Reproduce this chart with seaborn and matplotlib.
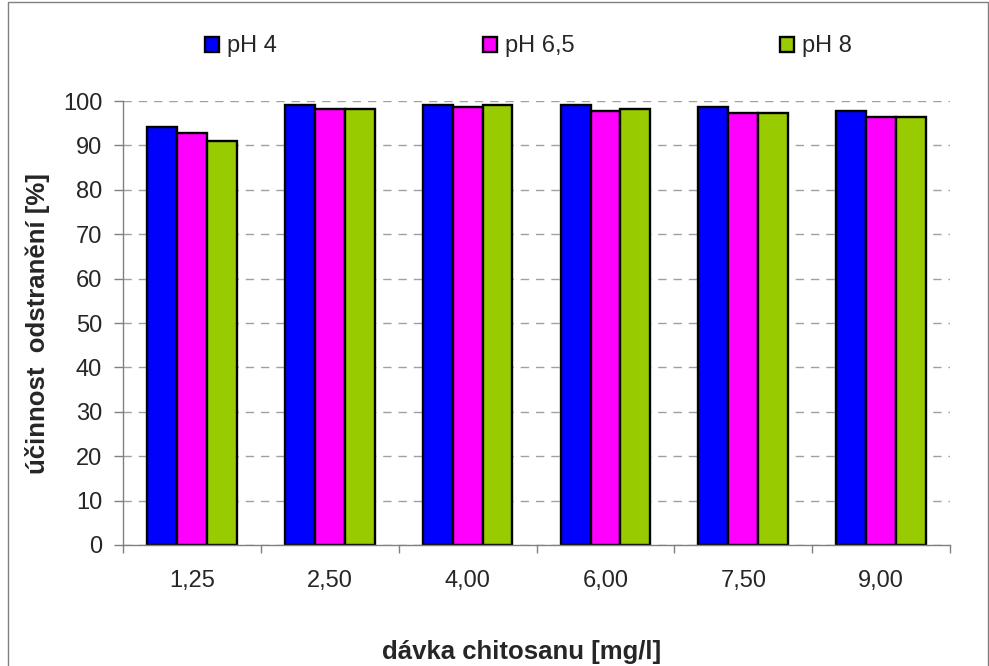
import numpy as np
import pandas as pd
import seaborn as sns
import matplotlib.pyplot as plt
from matplotlib.lines import Line2D

# data
doses = ["1,25", "2,50", "4,00", "6,00", "7,50", "9,00"]
series = ["pH 4", "pH 6,5", "pH 8"]
ph4 = [94.1, 99.1, 99.1, 99.1, 98.6, 97.7]
ph65 = [92.7, 98.1, 98.6, 97.7, 97.2, 96.3]
ph8 = [90.9, 98.1, 99.1, 98.1, 97.2, 96.3]
colors = ["#0000FF", "#FF00FF", "#99CC00"]

df = pd.DataFrame({
    "dose": doses * 3,
    "ph": [series[0]] * 6 + [series[1]] * 6 + [series[2]] * 6,
    "value": ph4 + ph65 + ph8,
})

sns.set_style("white")
plt.rcParams["font.family"] = ["Liberation Sans", "DejaVu Sans"]

fig = plt.figure(figsize=(9.89, 6.66), dpi=100)
ax = fig.add_axes([0.1244, 0.1817, 0.8362, 0.6666])

sns.barplot(data=df, x="dose", y="value", hue="ph", palette=colors,
            width=0.65, gap=0, edgecolor="black", linewidth=1.7,
            saturation=1, ax=ax, legend=True)

ax.set_ylim(0, 100)
ax.set_xlim(-0.5, 5.5)
ax.set_yticks(np.arange(0, 101, 10))
ax.tick_params(axis="y", labelsize=17, length=6.5, width=1, color="#808080",
               direction="out", left=True, pad=8.5)
ax.set_xticks(range(len(doses)))
ax.set_xticklabels(doses)
ax.tick_params(axis="x", which="major", length=0, labelsize=17, pad=18)
ax.set_xticks(np.arange(-0.5, 6, 1), minor=True)
ax.tick_params(axis="x", which="minor", length=6, width=1, color="#808080",
               direction="out", bottom=True)

ax.yaxis.grid(True, linestyle=(0, (6, 5)), color="#A0A0A0", linewidth=1)
ax.set_axisbelow(True)
for side in ["top", "right"]:
    ax.spines[side].set_visible(False)
for side in ["left", "bottom"]:
    ax.spines[side].set_color("#808080")
    ax.spines[side].set_linewidth(1)

ax.set_xlabel("dávka chitosanu [mg/l]", fontsize=18.5, fontweight="bold")
ax.xaxis.set_label_coords(0.482, -0.213)
ax.set_ylabel("účinnost  odstranění [%]", fontsize=18.5, fontweight="bold", labelpad=9)

handles, labels = ax.get_legend_handles_labels()
ax.legend(handles, labels, loc="center left", bbox_to_anchor=(0.0992, 1.123), ncol=3,
          frameon=False, fontsize=17, handlelength=0.6, handleheight=0.6,
          handletextpad=0.34, columnspacing=8.7, borderpad=0, borderaxespad=0)

# grey chart-area frame (left, top, right; the bottom edge lies outside the picture)
W, H = 989, 666
frame_x = [7.5 / W, 7.5 / W, 987.5 / W, 987.5 / W]
frame_y = [0.0, 1 - 1.5 / H, 1 - 1.5 / H, 0.0]
fig.add_artist(Line2D(frame_x, frame_y, transform=fig.transFigure,
                      color="#808080", linewidth=1))

fig.savefig("out.png", dpi=100)
